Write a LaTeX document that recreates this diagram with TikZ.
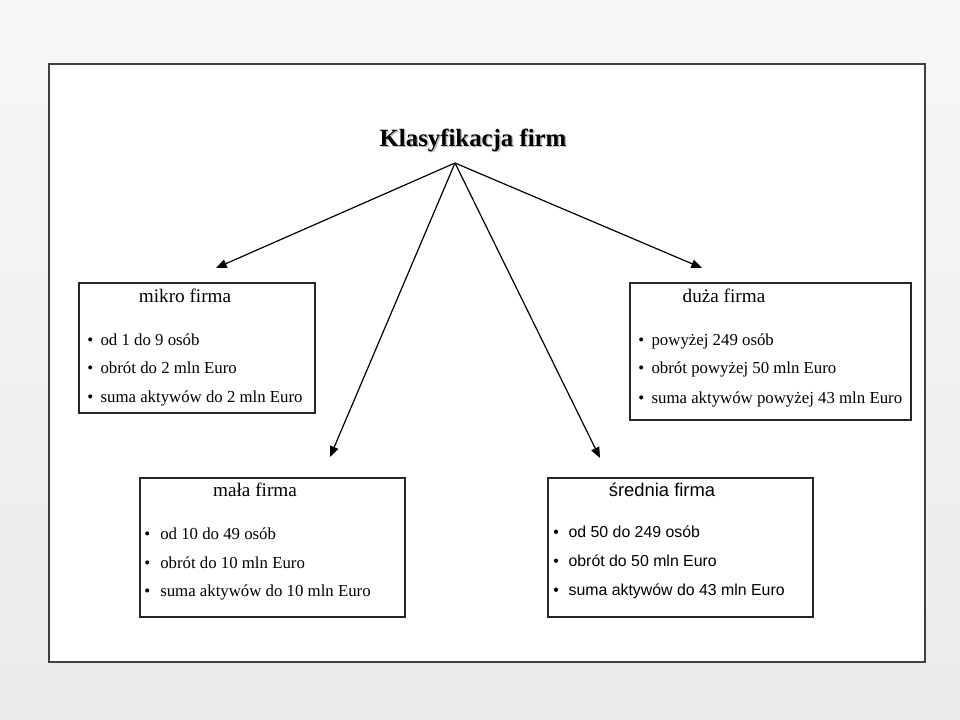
\documentclass[tikz,border=0pt]{standalone}
\usepackage{fontspec}
\setmainfont{Liberation Serif}
\newfontfamily\arialfont{Liberation Sans}
\usetikzlibrary{arrows.meta, fit}
\tikzset{
    box/.style={draw=black!85, line width=1.1pt, rectangle, inner sep=0pt},
    head/.style={anchor=mid, inner sep=0pt, font=\fontsize{14.4}{16}\selectfont},
    line/.style={anchor=mid west, inner sep=0pt, font=\fontsize{12.6}{15}\selectfont},
    arrow/.style={-{Triangle[length=8pt, width=6.5pt]}, line width=0.9pt}
}
\newcommand{\pkt}[1]{\makebox[10pt][l]{\textbullet}#1}

\begin{document}
\begin{tikzpicture}[x=0.75pt, y=-0.75pt]
% tlo i ramka
\shade[top color=gray!6, bottom color=gray!16] (0,0) rectangle (960,720);
\useasboundingbox (0,0) rectangle (960,720);
\node[box, draw=black!75, line width=1.4pt, fill=white, fit={(49,64) (925,662)}] (ramka) {};

% tytul
\node[font=\bfseries\fontsize{18.6}{20}\selectfont, text=gray!55] (cien) at (474.5,141.5) {Klasyfikacja firm};
\node[font=\bfseries\fontsize{18.6}{20}\selectfont] (tytul) at (473,140) {Klasyfikacja firm};
\coordinate (root) at (455,163);

% mikro
\node[box, fit={(79,283) (315,413)}] (mikro) {};
\node[head] (mikroH) at (185,299) {mikro firma};
\node[line] (mikro1) at (87,342) {\pkt{od 1 do 9 osób}};
\node[line] (mikro2) at (87,370) {\pkt{obrót do 2 mln Euro}};
\node[line] (mikro3) at (87,399) {\pkt{suma aktywów do 2 mln Euro}};

% duza
\node[box, fit={(630,283) (911,420)}] (duza) {};
\node[head] (duzaH) at (724,299) {duża firma};
\node[line] (duza1) at (638,342) {\pkt{powyżej 249 osób}};
\node[line] (duza2) at (638,370) {\pkt{obrót powyżej 50 mln Euro}};
\node[line] (duza3) at (638,400) {\pkt{suma aktywów powyżej 43 mln Euro}};

% mala
\node[box, fit={(140,478) (405,617)}] (mala) {};
\node[head] (malaH) at (255,493) {mała firma};
\node[line] (mala1) at (144,536) {\makebox[12pt][l]{\textbullet}od 10 do 49 osób};
\node[line] (mala2) at (144,565) {\makebox[12pt][l]{\textbullet}obrót do 10 mln Euro};
\node[line] (mala3) at (144,593) {\makebox[12pt][l]{\textbullet}suma aktywów do 10 mln Euro};

% srednia
\node[box, fit={(548,478) (813,617)}] (srednia) {};
\node[head, font=\arialfont\fontsize{13.8}{16}\selectfont] (sredniaH) at (662,493) {średnia firma};
\node[line, font=\arialfont\fontsize{11.9}{14}\selectfont] (srednia1) at (553,534) {\makebox[11.5pt][l]{\textbullet}od 50 do 249 osób};
\node[line, font=\arialfont\fontsize{11.9}{14}\selectfont] (srednia2) at (553,563) {\makebox[11.5pt][l]{\textbullet}obrót do 50 mln Euro};
\node[line, font=\arialfont\fontsize{11.9}{14}\selectfont] (srednia3) at (553,592) {\makebox[11.5pt][l]{\textbullet}suma aktywów do 43 mln Euro};

% strzalki
\coordinate (doMikro) at (216,268);
\coordinate (doDuza) at (702,268);
\coordinate (doMala) at (330,457);
\coordinate (doSrednia) at (600,458);
\draw[arrow] (root) -- (doMikro);
\draw[arrow] (root) -- (doDuza);
\draw[arrow] (root) -- (doMala);
\draw[arrow] (root) -- (doSrednia);
\end{tikzpicture}
\end{document}
